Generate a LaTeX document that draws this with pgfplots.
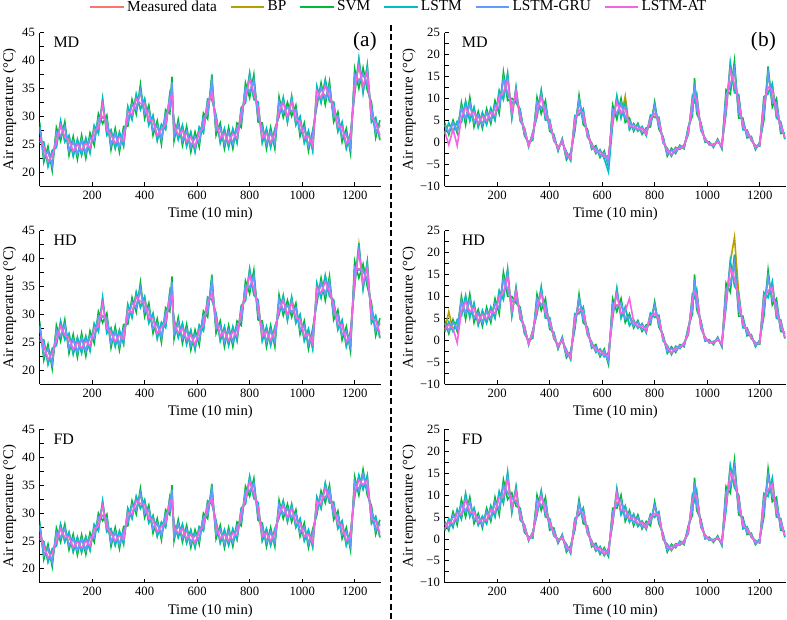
\documentclass[border=0pt]{standalone}
\usepackage{pgfplots}
\usepackage{pgfplotstable}
\pgfplotsset{compat=1.18}
\usepackage{fontspec}
\setmainfont{Liberation Serif}

\definecolor{cMeas}{HTML}{F8766D}
\definecolor{cBP}{HTML}{B79F00}
\definecolor{cSVM}{HTML}{00BA38}
\definecolor{cLSTM}{HTML}{00BFC4}
\definecolor{cGRU}{HTML}{619CFF}
\definecolor{cAT}{HTML}{F564E3}

% columns: x, measured, BP, SVM, LSTM, LSTM-GRU, LSTM-AT
\pgfplotstableread{
x m bp svm lstm gru at
0 28.0 25.6 29.0 25.4 28.2 26.3
16 22.8 25.2 21.8 25.4 22.6 24.5
32 23.6 21.2 24.6 21.0 23.8 21.9
48 21.3 23.7 20.3 23.9 21.1 23.0
64 27.0 24.6 28.0 24.4 27.2 25.3
80 26.6 29.0 25.6 29.2 26.4 28.3
96 28.0 25.6 29.0 25.4 28.2 26.3
112 24.0 26.4 23.0 26.6 23.8 25.7
128 25.4 23.0 26.4 22.8 25.6 23.7
144 23.3 25.7 22.3 25.9 23.1 25.0
160 25.6 23.2 26.6 23.0 25.8 23.9
176 23.5 25.9 22.5 26.1 23.3 25.2
192 26.0 23.6 27.0 23.4 26.2 24.3
208 25.8 28.2 24.8 28.4 25.6 27.5
224 29.5 27.1 30.5 26.9 29.7 27.8
240 30.0 33.0 28.7 33.2 29.7 32.1
256 29.2 26.8 30.2 26.6 29.4 27.5
272 25.0 27.4 24.0 27.6 24.8 26.7
288 26.8 24.4 27.8 24.2 27.0 25.1
304 24.6 27.0 23.6 27.2 24.4 26.3
320 27.2 24.8 28.2 24.6 27.4 25.5
336 29.2 31.6 28.2 31.8 29.0 30.9
352 32.0 29.6 33.0 29.4 32.2 30.3
368 31.4 33.8 30.4 34.0 31.2 33.1
384 34.4 31.4 35.7 31.2 34.7 32.3
400 30.6 33.0 29.6 33.2 30.4 32.3
416 31.0 28.6 32.0 28.4 31.2 29.3
432 27.6 30.0 26.6 30.2 27.4 29.3
448 28.2 25.8 29.2 25.6 28.4 26.5
464 26.0 28.4 25.0 28.6 25.8 27.7
480 30.2 27.8 31.2 27.6 30.4 28.5
496 31.5 33.9 30.5 34.1 31.3 33.2
504 35.8 32.8 37.1 32.6 36.1 33.7
512 26.6 29.0 25.6 29.2 26.4 28.3
528 28.4 26.0 29.4 25.8 28.6 26.7
544 25.8 28.2 24.8 28.4 25.6 27.5
560 27.2 24.8 28.2 24.6 27.4 25.5
576 24.6 27.0 23.6 27.2 24.4 26.3
592 26.2 23.8 27.2 23.6 26.4 24.5
608 25.5 27.9 24.5 28.1 25.3 27.2
624 29.6 27.2 30.6 27.0 29.8 27.9
640 30.5 32.9 29.5 33.1 30.3 32.2
656 36.2 33.2 37.5 33.0 36.5 34.1
672 27.6 30.0 26.6 30.2 27.4 29.3
688 27.8 25.4 28.8 25.2 28.0 26.1
704 25.2 27.6 24.2 27.8 25.0 26.9
720 27.0 24.6 28.0 24.4 27.2 25.3
736 25.2 27.6 24.2 27.8 25.0 26.9
752 27.8 25.4 28.8 25.2 28.0 26.1
768 29.0 31.4 28.0 31.6 28.8 30.7
784 35.0 32.6 36.0 32.4 35.2 33.3
800 34.6 37.6 33.3 37.8 34.3 36.7
816 36.2 33.2 37.5 33.0 36.5 34.1
832 30.0 32.4 29.0 32.6 29.8 31.7
848 27.8 25.4 28.8 25.2 28.0 26.1
864 25.2 27.6 24.2 27.8 25.0 26.9
880 27.0 24.6 28.0 24.4 27.2 25.3
896 25.2 27.6 24.2 27.8 25.0 26.9
912 32.5 30.1 33.5 29.9 32.7 30.8
928 30.8 33.2 29.8 33.4 30.6 32.5
944 31.5 29.1 32.5 28.9 31.7 29.8
960 31.0 33.4 30.0 33.6 30.8 32.7
976 31.0 28.6 32.0 28.4 31.2 29.3
992 27.4 29.8 26.4 30.0 27.2 29.1
1008 27.8 25.4 28.8 25.2 28.0 26.1
1024 24.8 27.2 23.8 27.4 24.6 26.5
1040 26.4 24.0 27.4 23.8 26.6 24.7
1056 32.8 35.2 31.8 35.4 32.6 34.5
1072 35.0 32.6 36.0 32.4 35.2 33.3
1088 33.4 36.4 32.1 36.6 33.1 35.5
1104 35.2 32.8 36.2 32.6 35.4 33.5
1120 30.0 32.4 29.0 32.6 29.8 31.7
1136 29.8 27.4 30.8 27.2 30.0 28.1
1152 26.4 28.8 25.4 29.0 26.2 28.1
1168 26.8 24.4 27.8 24.2 27.0 25.1
1184 24.4 26.8 23.4 27.0 24.2 26.1
1200 37.2 34.2 38.5 34.0 37.5 35.1
1216 36.5 40.1 35.0 40.4 36.2 39.0
1232 37.4 34.4 38.7 34.2 37.7 35.3
1248 36.0 39.0 34.7 39.2 35.7 38.1
1264 31.5 29.1 32.5 28.9 31.7 29.8
1280 27.2 29.6 26.2 29.8 27.0 28.9
1296 28.3 25.9 29.3 25.7 28.5 26.6
}\tabMDa

\pgfplotstableread{
x m bp svm lstm gru at
0 27.8 25.4 28.8 25.2 28.0 26.1
16 22.8 25.2 21.8 25.4 22.6 24.5
32 23.6 21.2 24.6 21.0 23.8 21.9
48 21.3 23.7 20.3 23.9 21.1 23.0
64 27.0 24.6 28.0 24.4 27.2 25.3
80 26.2 28.6 25.2 28.8 26.0 27.9
96 28.0 25.6 29.0 25.4 28.2 26.3
112 24.0 26.4 23.0 26.6 23.8 25.7
128 25.4 23.0 26.4 22.8 25.6 23.7
144 23.3 25.7 22.3 25.9 23.1 25.0
160 25.6 23.2 26.6 23.0 25.8 23.9
176 23.5 25.9 22.5 26.1 23.3 25.2
192 26.0 23.6 27.0 23.4 26.2 24.3
208 25.8 28.2 24.8 28.4 25.6 27.5
224 29.5 27.1 30.5 26.9 29.7 27.8
240 29.8 32.8 28.5 33.0 29.5 31.9
256 29.2 26.8 30.2 26.6 29.4 27.5
272 25.0 27.4 24.0 27.6 24.8 26.7
288 26.8 24.4 27.8 24.2 27.0 25.1
304 24.6 27.0 23.6 27.2 24.4 26.3
320 27.2 24.8 28.2 24.6 27.4 25.5
336 29.2 31.6 28.2 31.8 29.0 30.9
352 32.0 29.6 33.0 29.4 32.2 30.3
368 31.4 33.8 30.4 34.0 31.2 33.1
384 34.4 31.4 35.7 31.2 34.7 32.3
400 30.6 33.0 29.6 33.2 30.4 32.3
416 31.0 28.6 32.0 28.4 31.2 29.3
432 27.6 30.0 26.6 30.2 27.4 29.3
448 28.2 25.8 29.2 25.6 28.4 26.5
464 26.0 28.4 25.0 28.6 25.8 27.7
480 30.2 27.8 31.2 27.6 30.4 28.5
496 31.5 33.9 30.5 34.1 31.3 33.2
504 35.5 32.5 36.8 32.3 35.8 33.4
512 26.6 29.0 25.6 29.2 26.4 28.3
528 28.4 26.0 29.4 25.8 28.6 26.7
544 25.8 28.2 24.8 28.4 25.6 27.5
560 27.2 24.8 28.2 24.6 27.4 25.5
576 24.6 27.0 23.6 27.2 24.4 26.3
592 26.2 23.8 27.2 23.6 26.4 24.5
608 25.5 27.9 24.5 28.1 25.3 27.2
624 29.6 27.2 30.6 27.0 29.8 27.9
640 30.5 32.9 29.5 33.1 30.3 32.2
656 35.8 32.8 37.1 32.6 36.1 33.7
672 27.6 30.0 26.6 30.2 27.4 29.3
688 27.8 25.4 28.8 25.2 28.0 26.1
704 25.2 27.6 24.2 27.8 25.0 26.9
720 27.0 24.6 28.0 24.4 27.2 25.3
736 25.2 27.6 24.2 27.8 25.0 26.9
752 27.8 25.4 28.8 25.2 28.0 26.1
768 29.0 31.4 28.0 31.6 28.8 30.7
784 35.0 32.6 36.0 32.4 35.2 33.3
800 35.0 38.0 33.7 38.2 34.7 37.1
816 36.6 33.6 37.9 33.4 36.9 34.5
832 30.0 32.4 29.0 32.6 29.8 31.7
848 27.8 25.4 28.8 25.2 28.0 26.1
864 25.2 27.6 24.2 27.8 25.0 26.9
880 27.0 24.6 28.0 24.4 27.2 25.3
896 25.2 27.6 24.2 27.8 25.0 26.9
912 32.5 30.1 33.5 29.9 32.7 30.8
928 30.8 33.2 29.8 33.4 30.6 32.5
944 31.5 29.1 32.5 28.9 31.7 29.8
960 30.5 32.9 29.5 33.1 30.3 32.2
976 31.0 28.6 32.0 28.4 31.2 29.3
992 27.4 29.8 26.4 30.0 27.2 29.1
1008 27.8 25.4 28.8 25.2 28.0 26.1
1024 24.8 27.2 23.8 27.4 24.6 26.5
1040 26.4 24.0 27.4 23.8 26.6 24.7
1056 33.0 35.4 32.0 35.6 32.8 34.7
1072 35.5 33.1 36.5 32.9 35.7 33.8
1088 33.8 36.8 32.5 37.0 33.5 35.9
1104 35.8 33.4 36.8 33.2 36.0 34.1
1120 30.0 32.4 29.0 32.6 29.8 31.7
1136 29.8 27.4 30.8 27.2 30.0 28.1
1152 26.4 28.8 25.4 29.0 26.2 28.1
1168 26.8 24.4 27.8 24.2 27.0 25.1
1184 24.4 26.8 23.4 27.0 24.2 26.1
1200 38.2 35.2 39.5 35.0 38.5 36.1
1216 38.2 42.4 36.5 42.8 37.9 41.2
1232 37.7 34.7 39.0 34.5 38.0 35.6
1248 36.3 39.3 35.0 39.5 36.0 38.4
1264 31.0 28.6 32.0 28.4 31.2 29.3
1280 27.2 29.6 26.2 29.8 27.0 28.9
1296 28.3 25.9 29.3 25.7 28.5 26.6
}\tabHDa

\pgfplotstableread{
x m bp svm lstm gru at
0 27.7 25.5 28.6 25.4 27.9 26.2
16 22.6 24.8 21.7 24.9 22.4 24.1
32 23.5 21.3 24.4 21.2 23.7 22.0
48 21.3 23.5 20.4 23.6 21.1 22.8
64 26.4 24.2 27.3 24.1 26.6 24.9
80 25.7 27.9 24.8 28.0 25.5 27.2
96 27.1 24.9 28.0 24.8 27.3 25.6
112 24.3 26.5 23.4 26.6 24.1 25.8
128 25.3 23.1 26.2 23.0 25.5 23.8
144 23.4 25.6 22.5 25.7 23.2 24.9
160 25.2 23.0 26.1 22.9 25.4 23.7
176 23.5 25.7 22.6 25.8 23.3 25.0
192 25.6 23.4 26.5 23.3 25.8 24.1
208 25.7 27.9 24.8 28.0 25.5 27.2
224 29.1 26.9 30.0 26.8 29.3 27.6
240 29.6 32.0 28.6 32.2 29.4 31.3
256 28.9 26.7 29.8 26.6 29.1 27.4
272 24.9 27.1 24.0 27.2 24.7 26.4
288 26.5 24.3 27.4 24.2 26.7 25.0
304 24.5 26.7 23.6 26.8 24.3 26.0
320 26.7 24.5 27.6 24.4 26.9 25.2
336 28.6 30.8 27.7 30.9 28.4 30.1
352 31.3 29.1 32.2 29.0 31.5 29.8
368 30.7 32.9 29.8 33.0 30.5 32.2
384 33.4 31.0 34.4 30.8 33.6 31.7
400 30.1 32.3 29.2 32.4 29.9 31.6
416 30.5 28.3 31.4 28.2 30.7 29.0
432 27.3 29.5 26.4 29.6 27.1 28.8
448 28.1 25.9 29.0 25.8 28.3 26.6
464 26.1 28.3 25.2 28.4 25.9 27.6
480 29.7 27.5 30.6 27.4 29.9 28.2
496 30.6 32.8 29.7 32.9 30.4 32.1
504 34.0 31.6 35.0 31.4 34.2 32.3
512 25.9 28.1 25.0 28.2 25.7 27.4
528 27.9 25.7 28.8 25.6 28.1 26.4
544 25.7 27.9 24.8 28.0 25.5 27.2
560 26.9 24.7 27.8 24.6 27.1 25.4
576 24.7 26.9 23.8 27.0 24.5 26.2
592 26.1 23.9 27.0 23.8 26.3 24.6
608 25.3 27.5 24.4 27.6 25.1 26.8
624 29.1 26.9 30.0 26.8 29.3 27.6
640 29.9 32.1 29.0 32.2 29.7 31.4
656 34.2 31.8 35.2 31.6 34.4 32.5
672 26.3 28.5 25.4 28.6 26.1 27.8
688 26.9 24.7 27.8 24.6 27.1 25.4
704 24.7 26.9 23.8 27.0 24.5 26.2
720 26.5 24.3 27.4 24.2 26.7 25.0
736 24.9 27.1 24.0 27.2 24.7 26.4
752 27.5 25.3 28.4 25.2 27.7 26.0
768 28.6 30.8 27.7 30.9 28.4 30.1
784 33.9 31.7 34.8 31.6 34.1 32.4
800 34.0 36.4 33.0 36.6 33.8 35.7
816 35.2 32.8 36.2 32.6 35.4 33.5
832 29.6 31.8 28.7 31.9 29.4 31.1
848 27.3 25.1 28.2 25.0 27.5 25.8
864 24.9 27.1 24.0 27.2 24.7 26.4
880 26.5 24.3 27.4 24.2 26.7 25.0
896 24.9 27.1 24.0 27.2 24.7 26.4
912 31.4 29.2 32.3 29.1 31.6 29.9
928 29.9 32.1 29.0 32.2 29.7 31.4
944 30.7 28.5 31.6 28.4 30.9 29.2
960 29.3 31.5 28.4 31.6 29.1 30.8
976 29.7 27.5 30.6 27.4 29.9 28.2
992 26.7 28.9 25.8 29.0 26.5 28.2
1008 27.3 25.1 28.2 25.0 27.5 25.8
1024 24.7 26.9 23.8 27.0 24.5 26.2
1040 26.2 24.0 27.1 23.9 26.4 24.7
1056 30.6 32.8 29.7 32.9 30.4 32.1
1072 33.1 30.9 34.0 30.8 33.3 31.6
1088 32.8 35.2 31.8 35.4 32.6 34.5
1104 34.1 31.9 35.0 31.8 34.3 32.6
1120 29.7 31.9 28.8 32.0 29.5 31.2
1136 29.5 27.3 30.4 27.2 29.7 28.0
1152 26.3 28.5 25.4 28.6 26.1 27.8
1168 26.5 24.3 27.4 24.2 26.7 25.0
1184 24.3 26.5 23.4 26.6 24.1 25.8
1200 35.5 33.1 36.5 32.9 35.7 33.8
1216 34.2 36.6 33.2 36.8 34.0 35.9
1232 36.8 34.4 37.8 34.2 37.0 35.1
1248 34.2 36.6 33.2 36.8 34.0 35.9
1264 30.4 28.2 31.3 28.1 30.6 28.9
1280 27.1 29.3 26.2 29.4 26.9 28.6
1296 27.9 25.7 28.8 25.6 28.1 26.4
}\tabFDa

\pgfplotstableread{
x m bp svm lstm gru at
0 3.8 2.0 4.5 1.8 3.9 2.5
16 2.4 4.2 1.7 4.4 2.3 -0.6
32 4.3 2.5 5.0 2.3 4.4 3.0
48 2.8 4.6 2.1 4.8 2.7 -0.8
64 7.7 4.7 9.0 4.5 8.0 5.6
80 5.5 9.1 4.0 9.4 5.2 8.0
96 8.7 5.1 10.2 4.8 9.0 6.2
112 4.8 7.8 3.5 8.0 4.5 6.9
128 6.0 3.6 7.0 3.4 6.2 4.3
144 4.2 6.6 3.2 6.8 4.0 5.9
160 6.6 4.2 7.6 4.0 6.8 4.9
176 5.2 7.6 4.2 7.8 5.0 6.9
192 8.2 5.2 9.5 5.0 8.5 6.1
208 8.0 11.6 6.5 11.9 7.7 10.5
224 14.3 10.1 16.0 9.7 14.6 11.3
240 11.2 15.4 9.5 15.8 10.9 14.2
256 8.7 5.7 10.0 5.5 9.0 6.6
272 10.0 12.4 9.0 12.6 9.8 11.7
288 6.8 5.0 7.5 4.8 6.9 5.5
304 2.0 3.2 1.5 3.3 1.9 2.9
320 -0.3 -1.0 -0.1 -1.0 -0.3 -0.8
336 1.0 2.2 0.5 2.3 0.9 1.9
352 9.0 6.0 10.3 5.8 9.3 6.9
368 8.0 11.6 6.5 11.9 7.7 10.5
384 8.2 5.2 9.5 5.0 8.5 6.1
400 3.2 5.0 2.5 5.2 3.1 4.5
416 1.4 0.4 1.8 0.4 1.5 0.7
432 -1.8 -1.1 -2.0 -1.1 -1.8 -1.3
448 0.6 -0.1 0.8 -0.1 0.6 0.1
464 -3.5 -2.3 -4.0 -2.2 -3.6 -2.6
480 -2.9 -4.1 -2.4 -4.2 -2.8 -3.8
496 3.5 5.9 2.5 6.1 3.3 5.2
512 9.4 6.4 10.7 6.2 9.7 7.3
528 5.0 7.4 4.0 7.6 4.8 6.7
544 2.5 1.3 3.0 1.2 2.6 1.6
560 -1.2 -0.2 -1.6 -0.2 -1.3 -0.5
576 -1.3 -2.5 -0.8 -2.6 -1.2 -2.2
592 -3.0 -1.8 -3.5 -1.7 -3.1 -2.1
608 -2.5 -3.7 -2.0 -3.8 -2.4 -3.4
624 -4.8 -3.0 -5.5 -6.8 -4.9 -3.5
640 7.2 4.2 8.5 4.0 7.5 5.1
656 6.7 10.3 5.2 10.6 6.4 9.2
672 8.7 5.7 10.0 5.5 9.0 6.6
688 5.8 10.5 4.5 9.0 5.5 7.9
704 4.8 3.0 5.5 2.8 4.9 3.5
720 3.0 4.2 2.5 4.3 2.9 3.9
736 3.8 2.6 4.3 2.5 3.9 2.9
752 2.3 3.5 1.8 3.6 2.2 3.2
768 2.8 1.6 3.3 1.5 2.9 1.9
784 4.2 6.0 3.5 6.2 4.1 5.5
800 8.2 5.8 9.2 5.6 8.4 6.5
816 3.7 5.5 3.0 5.7 3.6 5.0
832 0.9 -0.1 1.3 -0.1 1.0 0.2
848 -2.7 -1.5 -3.2 -1.4 -2.8 -1.8
864 -1.9 -3.1 -1.4 -3.2 -1.8 -2.8
880 -2.2 -1.2 -2.6 -1.2 -2.3 -1.5
896 -0.9 -1.6 -0.7 -1.6 -0.9 -1.4
912 -1.3 -0.6 -1.5 -0.6 -1.3 -0.8
928 3.0 1.8 3.5 1.7 3.1 2.1
944 7.3 10.3 6.0 10.5 7.0 9.4
952 13.1 9.5 14.6 9.2 13.4 10.6
960 7.8 10.8 6.5 11.0 7.5 9.9
976 4.0 2.8 4.5 2.7 4.1 3.1
992 0.2 0.9 0.0 0.9 0.2 0.7
1008 -0.1 -0.6 0.1 -0.6 -0.1 -0.4
1024 -1.0 -0.5 -1.2 -0.5 -1.0 -0.7
1040 0.5 0.0 0.7 0.0 0.5 0.2
1056 -1.3 -0.6 -1.5 -0.6 -1.3 -0.8
1072 10.5 6.9 12.0 6.6 10.8 8.0
1088 13.0 17.8 11.0 18.2 12.6 16.4
1104 16.5 11.7 18.5 11.3 16.9 13.1
1120 7.0 10.6 5.5 10.9 6.7 9.5
1136 4.8 3.0 5.5 2.8 4.9 3.5
1152 1.5 2.7 1.0 2.8 1.4 2.4
1168 1.1 0.4 1.3 0.4 1.1 0.6
1184 -1.5 -0.8 -1.7 -0.8 -1.5 -1.0
1200 -0.2 -0.9 0.0 -0.9 -0.2 -0.7
1216 6.5 10.1 5.0 10.4 6.2 9.0
1232 15.6 11.4 17.3 11.0 15.9 12.6
1248 9.5 13.1 8.0 13.4 9.2 12.0
1264 8.7 5.7 10.0 5.5 9.0 6.6
1280 2.7 4.5 2.0 4.7 2.6 4.0
1296 1.7 0.7 2.1 0.7 1.8 1.0
}\tabMDb

\pgfplotstableread{
x m bp svm lstm gru at
0 3.8 2.0 4.5 1.8 3.9 2.5
16 2.2 6.5 1.5 4.2 2.1 3.5
32 4.0 2.2 4.7 2.0 4.1 2.7
48 2.7 4.5 2.0 4.7 2.6 -0.6
64 8.7 5.7 10.0 5.5 9.0 6.6
80 6.3 9.9 4.8 10.2 6.0 8.8
96 9.0 5.4 10.5 5.1 9.3 6.5
112 5.3 8.3 4.0 8.5 5.0 7.4
128 6.0 3.6 7.0 3.4 6.2 4.3
144 4.2 6.6 3.2 6.8 4.0 5.9
160 6.5 4.1 7.5 3.9 6.7 4.8
176 5.0 7.4 4.0 7.6 4.8 6.7
192 8.2 5.2 9.5 5.0 8.5 6.1
208 7.5 11.1 6.0 11.4 7.2 10.0
224 13.8 9.6 15.5 9.2 14.1 10.8
240 11.7 15.9 10.0 16.3 11.4 14.7
256 8.7 5.7 10.0 5.5 9.0 6.6
272 9.5 11.9 8.5 12.1 9.3 11.2
288 6.8 5.0 7.5 4.8 6.9 5.5
304 2.0 3.2 1.5 3.3 1.9 2.9
320 -0.3 -1.0 -0.1 -1.0 -0.3 -0.8
336 1.0 2.2 0.5 2.3 0.9 1.9
352 9.2 6.2 10.5 6.0 9.5 7.1
368 8.3 11.9 6.8 12.2 8.0 10.8
384 8.2 5.2 9.5 5.0 8.5 6.1
400 3.2 5.0 2.5 5.2 3.1 4.5
416 1.4 0.4 1.8 0.4 1.5 0.7
432 -1.8 -1.1 -2.0 -1.1 -1.8 -1.3
448 0.5 -0.2 0.7 -0.2 0.5 0.0
464 -3.5 -2.3 -4.0 -2.2 -3.6 -2.6
480 -3.1 -4.3 -2.6 -4.4 -3.0 -4.0
496 3.5 5.9 2.5 6.1 3.3 5.2
512 9.2 6.2 10.5 6.0 9.5 7.1
528 5.0 7.4 4.0 7.6 4.8 6.7
544 2.5 1.3 3.0 1.2 2.6 1.6
560 -1.4 -0.4 -1.8 -0.4 -1.5 -0.7
576 -1.5 -2.7 -1.0 -2.8 -1.4 -2.4
592 -3.3 -2.1 -3.8 -2.0 -3.4 -2.4
608 -2.5 -3.7 -2.0 -3.8 -2.4 -3.4
624 -4.8 -3.0 -5.5 -2.8 -4.9 -3.5
640 8.2 5.2 9.5 5.0 8.5 6.1
656 8.0 11.6 6.5 11.9 7.7 10.5
672 8.2 5.2 9.5 5.0 8.5 6.1
688 5.0 7.4 4.0 7.6 4.8 6.7
704 5.3 3.5 6.0 3.3 5.4 9.5
720 3.3 4.5 2.8 4.6 3.2 4.2
736 4.0 2.8 4.5 2.7 4.1 3.1
752 2.5 3.7 2.0 3.8 2.4 3.4
768 3.0 1.8 3.5 1.7 3.1 2.1
784 4.2 6.0 3.5 6.2 4.1 5.5
800 7.8 5.4 8.8 5.2 8.0 6.1
816 3.7 5.5 3.0 5.7 3.6 5.0
832 0.9 -0.1 1.3 -0.1 1.0 0.2
848 -2.5 -1.3 -3.0 -1.2 -2.6 -1.6
864 -2.0 -3.2 -1.5 -3.3 -1.9 -2.9
880 -2.4 -1.4 -2.8 -1.4 -2.5 -1.7
896 -1.2 -1.9 -1.0 -1.9 -1.2 -1.7
912 -1.3 -0.6 -1.5 -0.6 -1.3 -0.8
928 2.5 1.3 3.0 1.2 2.6 1.6
944 7.3 10.3 6.0 10.5 7.0 9.4
952 13.5 9.9 15.0 9.6 13.8 11.0
960 8.3 11.3 7.0 11.5 8.0 10.4
976 4.0 2.8 4.5 2.7 4.1 3.1
992 0.0 0.7 -0.2 0.7 0.0 0.5
1008 -0.1 -0.6 0.1 -0.6 -0.1 -0.4
1024 -0.8 -0.3 -1.0 -0.3 -0.8 -0.5
1040 0.5 0.0 0.7 0.0 0.5 0.2
1056 -1.3 -0.6 -1.5 -0.6 -1.3 -0.8
1072 11.5 7.9 13.0 7.6 11.8 9.0
1088 13.0 17.8 11.0 18.2 12.6 16.4
1104 17.5 23.5 19.5 12.3 17.9 14.1
1120 7.0 10.6 5.5 10.9 6.7 9.5
1136 4.8 3.0 5.5 2.8 4.9 3.5
1152 1.5 2.7 1.0 2.8 1.4 2.4
1168 1.1 0.4 1.3 0.4 1.1 0.6
1184 -1.3 -0.6 -1.5 -0.6 -1.3 -0.8
1200 -0.2 -0.9 0.0 -0.9 -0.2 -0.7
1216 7.0 10.6 5.5 10.9 6.7 9.5
1232 14.3 10.1 16.0 9.7 14.6 11.3
1248 9.5 13.1 8.0 13.4 9.2 12.0
1264 8.2 5.2 9.5 5.0 8.5 6.1
1280 2.7 4.5 2.0 4.7 2.6 4.0
1296 1.4 0.4 1.8 0.4 1.5 0.7
}\tabHDb

\pgfplotstableread{
x m bp svm lstm gru at
0 3.4 2.0 4.0 1.8 3.5 2.4
16 2.6 4.4 1.9 4.6 2.5 3.9
32 5.2 2.8 6.2 2.6 5.4 3.5
48 4.2 6.6 3.2 6.8 4.0 5.9
64 7.7 4.7 9.0 4.5 8.0 5.6
80 6.5 10.1 5.0 10.4 6.2 9.0
96 8.2 5.2 9.5 5.0 8.5 6.1
112 4.5 6.9 3.5 7.1 4.3 6.2
128 5.1 3.3 5.8 3.1 5.2 3.8
144 3.2 5.0 2.5 5.2 3.1 4.5
160 6.0 3.6 7.0 3.4 6.2 4.3
176 5.0 7.4 4.0 7.6 4.8 6.7
192 8.2 5.2 9.5 5.0 8.5 6.1
208 7.0 10.6 5.5 10.9 6.7 9.5
224 12.0 8.4 13.5 8.1 12.3 9.5
240 10.7 14.9 9.0 15.3 10.4 13.7
256 9.2 6.2 10.5 6.0 9.5 7.1
272 8.8 11.8 7.5 12.0 8.5 10.9
288 6.3 4.5 7.0 4.3 6.4 5.0
304 2.0 3.2 1.5 3.3 1.9 2.9
320 0.3 -0.4 0.5 -0.4 0.3 -0.2
336 0.6 1.6 0.2 1.6 0.5 1.3
352 8.7 5.7 10.0 5.5 9.0 6.6
368 7.8 10.8 6.5 11.0 7.5 9.9
384 8.2 5.2 9.5 5.0 8.5 6.1
400 2.7 4.5 2.0 4.7 2.6 4.0
416 2.0 0.8 2.5 0.7 2.1 1.1
432 -0.8 -0.1 -1.0 -0.1 -0.8 -0.3
448 0.8 0.1 1.0 0.1 0.8 0.3
464 -2.5 -1.3 -3.0 -1.2 -2.6 -1.6
480 -2.0 -3.2 -1.5 -3.3 -1.9 -2.9
496 2.7 4.5 2.0 4.7 2.6 4.0
512 8.0 5.6 9.0 5.4 8.2 6.3
528 4.5 6.9 3.5 7.1 4.3 6.2
544 2.5 1.3 3.0 1.2 2.6 1.6
560 -1.4 -0.4 -1.8 -0.4 -1.5 -0.7
576 -1.5 -2.7 -1.0 -2.8 -1.4 -2.4
592 -3.0 -1.8 -3.5 -1.7 -3.1 -2.1
608 -2.5 -3.7 -2.0 -3.8 -2.4 -3.4
624 -3.5 -2.3 -4.0 -2.2 -3.6 -2.6
640 6.0 3.6 7.0 3.4 6.2 4.3
656 8.3 11.3 7.0 11.5 8.0 10.4
672 8.7 5.7 10.0 5.5 9.0 6.6
688 5.0 7.4 4.0 7.6 4.8 6.7
704 5.8 4.0 6.5 3.8 5.9 4.5
720 3.7 5.5 3.0 5.7 3.6 5.0
736 4.8 3.0 5.5 2.8 4.9 3.5
752 2.8 4.0 2.3 4.1 2.7 3.7
768 3.5 2.3 4.0 2.2 3.6 2.6
784 3.7 5.5 3.0 5.7 3.6 5.0
800 7.5 5.1 8.5 4.9 7.7 5.8
816 4.2 6.0 3.5 6.2 4.1 5.5
832 0.9 -0.1 1.3 -0.1 1.0 0.2
848 -2.5 -1.3 -3.0 -1.2 -2.6 -1.6
864 -1.6 -2.6 -1.2 -2.6 -1.5 -2.3
880 -1.8 -1.1 -2.0 -1.1 -1.8 -1.3
896 -0.7 -1.4 -0.5 -1.4 -0.7 -1.2
912 -1.1 -0.4 -1.3 -0.4 -1.1 -0.6
928 2.5 1.3 3.0 1.2 2.6 1.6
944 6.8 9.8 5.5 10.0 6.5 8.9
952 12.5 8.9 14.0 8.6 12.8 10.0
960 7.8 10.8 6.5 11.0 7.5 9.9
976 4.0 2.8 4.5 2.7 4.1 3.1
992 0.2 0.9 0.0 0.9 0.2 0.7
1008 0.2 -0.3 0.4 -0.3 0.2 -0.1
1024 -0.6 -0.1 -0.8 -0.1 -0.6 -0.3
1040 0.5 0.0 0.7 0.0 0.5 0.2
1056 -1.3 -0.6 -1.5 -0.6 -1.3 -0.8
1072 10.5 6.9 12.0 6.6 10.8 8.0
1088 12.2 16.4 10.5 16.8 11.9 15.2
1104 16.3 12.1 18.0 11.7 16.6 13.3
1120 6.8 9.8 5.5 10.0 6.5 8.9
1136 4.3 2.5 5.0 2.3 4.4 3.0
1152 1.5 2.7 1.0 2.8 1.4 2.4
1168 1.1 0.4 1.3 0.4 1.1 0.6
1184 -1.1 -0.4 -1.3 -0.4 -1.1 -0.6
1200 -0.2 -0.9 0.0 -0.9 -0.2 -0.7
1216 6.5 10.1 5.0 10.4 6.2 9.0
1232 14.3 10.1 16.0 9.7 14.6 11.3
1248 10.0 13.6 8.5 13.9 9.7 12.5
1264 8.2 5.2 9.5 5.0 8.5 6.1
1280 2.7 4.5 2.0 4.7 2.6 4.0
1296 1.4 0.4 1.8 0.4 1.5 0.7
}\tabFDb

\tikzset{
  sM/.style={color=cMeas, line width=1.2pt, mark=none},
  sB/.style={color=cBP, line width=1.2pt, mark=none},
  sS/.style={color=cSVM, line width=1.2pt, mark=none},
  sL/.style={color=cLSTM, line width=1.2pt, mark=none},
  sG/.style={color=cGRU, line width=1.2pt, mark=none},
  sA/.style={color=cAT, line width=1.2pt, mark=none},
}
\newcommand{\six}[1]{%
  \addplot[sM] table[x=x,y=m]{#1};
  \addplot[sB] table[x=x,y=bp]{#1};
  \addplot[sS] table[x=x,y=svm]{#1};
  \addplot[sL] table[x=x,y=lstm]{#1};
  \addplot[sG] table[x=x,y=gru]{#1};
  \addplot[sA] table[x=x,y=at]{#1};
}

\pgfplotsset{
  panel/.style={
    scale only axis, width=256pt, height=115pt,
    axis lines=left, axis line style={-, line width=0.6pt},
    xmin=0, xmax=1300, xtick={200,400,600,800,1000,1200},
    tick align=inside, major tick length=3pt, minor tick length=3pt,
    minor y tick num=1,
    every tick/.style={black, line width=0.6pt},
    xlabel={Time (10 min)}, ylabel={Air temperature (°C)},
    xlabel style={at={(axis description cs:0.5,-0.1826)}, anchor=center, font=\fontsize{11}{12}\selectfont},
    tick label style={font=\fontsize{9.5}{11}\selectfont},
    /pgf/number format/assume math mode=true,
    /pgf/number format/1000 sep={},
  },
  leftp/.style={panel, ymin=17.5, ymax=45, ytick={20,25,30,35,40,45},
    ylabel style={at={(axis description cs:-0.088,0.5)}, anchor=center, font=\fontsize{11}{12}\selectfont}},
  rightp/.style={panel, ymin=-10, ymax=25, ytick={-10,-5,0,5,10,15,20,25},
    yticklabels={−10,−5,0,5,10,15,20,25},
    ylabel style={at={(axis description cs:-0.104,0.5)}, anchor=center, font=\fontsize{11}{12}\selectfont}},
}

\begin{document}
\begin{tikzpicture}
\path[use as bounding box] (0pt,0pt) rectangle (590.25pt,464.25pt);

\begin{axis}[leftp, at={(29.7pt,324.75pt)}, anchor=south west,
  legend style={at={(axis description cs:1.054,1.168)}, anchor=center,
    legend columns=6, draw=white, fill=white, font=\fontsize{11.5}{12}\selectfont,
    /tikz/every even column/.append style={column sep=8pt}},
  legend image code/.code={\draw[#1, line width=1pt] (0pt,0pt) -- (25pt,0pt);}]
\six{\tabMDa}
\legend{Measured data,BP,SVM,LSTM,LSTM-GRU,LSTM-AT}
\node[anchor=west, inner sep=0pt, font=\fontsize{12}{14}\selectfont] at (rel axis cs:0.04,0.935) {MD};
\node[anchor=center, inner sep=0pt, font=\fontsize{16}{18}\selectfont] at (rel axis cs:0.953,0.941) {(a)};
\end{axis}

\begin{axis}[leftp, at={(29.7pt,176.25pt)}, anchor=south west]
\six{\tabHDa}
\node[anchor=west, inner sep=0pt, font=\fontsize{12}{14}\selectfont] at (rel axis cs:0.04,0.935) {HD};
\end{axis}

\begin{axis}[leftp, at={(29.7pt,27.2pt)}, anchor=south west]
\six{\tabFDa}
\node[anchor=west, inner sep=0pt, font=\fontsize{12}{14}\selectfont] at (rel axis cs:0.04,0.935) {FD};
\end{axis}

\begin{axis}[rightp, at={(333.45pt,324.75pt)}, anchor=south west]
\six{\tabMDb}
\node[anchor=west, inner sep=0pt, font=\fontsize{12}{14}\selectfont] at (rel axis cs:0.05,0.935) {MD};
\node[anchor=center, inner sep=0pt, font=\fontsize{16}{18}\selectfont] at (rel axis cs:0.934,0.941) {(b)};
\end{axis}

\begin{axis}[rightp, at={(333.45pt,176.25pt)}, anchor=south west]
\six{\tabHDb}
\node[anchor=west, inner sep=0pt, font=\fontsize{12}{14}\selectfont] at (rel axis cs:0.05,0.935) {HD};
\end{axis}

\begin{axis}[rightp, at={(333.45pt,27.2pt)}, anchor=south west]
\six{\tabFDb}
\node[anchor=west, inner sep=0pt, font=\fontsize{12}{14}\selectfont] at (rel axis cs:0.05,0.935) {FD};
\end{axis}

\draw[line width=1.1pt, dash pattern=on 4.5pt off 2.5pt] (293.25pt,445.5pt) -- (293.25pt,0pt);
\end{tikzpicture}
\end{document}
